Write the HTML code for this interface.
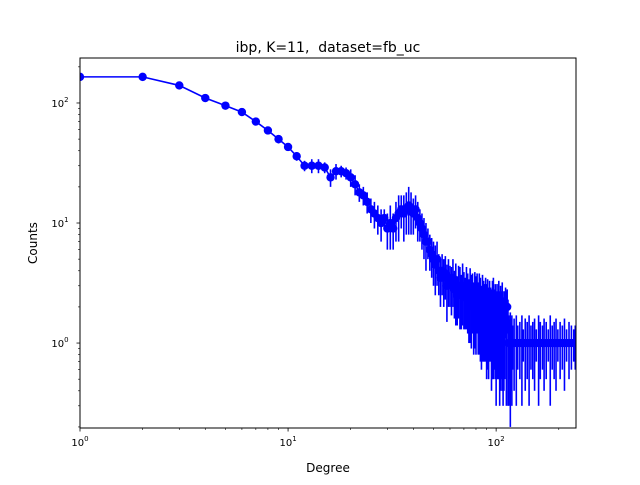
<!DOCTYPE html>
<html><head><meta charset="utf-8"><style>
body{margin:0;background:#fff;}
svg text{font-family:"DejaVu Sans","Liberation Sans",sans-serif;fill:#000;}
</style></head><body>
<svg id="chart" width="640" height="480" xmlns="http://www.w3.org/2000/svg">
<rect width="640" height="480" fill="#fff"/>
<defs><clipPath id="clip"><rect x="80" y="58" width="496" height="370"/></clipPath></defs>
<text x="328" y="52" font-size="14" text-anchor="middle" xml:space="preserve">ibp, K=11,  dataset=fb_uc</text>
<text x="328" y="472" font-size="12" text-anchor="middle">Degree</text>
<text x="37" y="243" font-size="12" text-anchor="middle" transform="rotate(-90 37 243)">Counts</text>
<g id="plot" clip-path="url(#clip)"></g>
<g id="axes"></g>
<rect x="80" y="58" width="496" height="370" fill="none" stroke="#000" stroke-width="1"/>
</svg>
<script>
const degrees = [1,2,3,4,5,6,7,8,9,10,11,12,13,14,15,16,17,18,19,20,21,22,23,24,25,26,27,28,29,30,
31,32,33,34,35,36,37,38,39,40,41,42,43,44,45,46,47,48,49,50,51,52,53,54,55,56,57,58,59,60,
61,62,63,64,65,66,67,68,69,70,71,72,73,74,75,76,77,78,79,80,81,82,83,84,85,86,87,88,89,90,
91,92,93,94,95,96,97,98,99,100,101,102,103,104,105,106,107,108,109,110,111,112,113,114,115,116,117,118,119,120,
122,125,127,130,133,135,138,141,144,147,150,153,156,160,163,167,170,174,178,182,186,190,194,198,203,208,213,218,224,230,236,240];
const counts = [165,165,140,110,95,84,70,59,50,43,36,30,30,30,29,24,27,27,26,24,21,18,17,15,13,12,11,10,11,9,
10,9,11,12,13,12,13,14,13,12,13,11,10,9,8,7,7,6,5.5,5,4.5,5,4,3.5,4,3.5,3.8,3,3.5,3.2,
3,3.5,2.8,3,2.5,3,2.8,2.5,3,2.6,2.4,2.8,2.5,2.2,2.6,2.3,2.5,2,2.4,2.2,2.5,2,2.3,2.1,1.8,2.2,2,1.9,2.1,1.8,
2,1.7,2,1.8,1.6,1.9,2,1.7,1.8,1.5,1.8,1.6,1.9,1.5,1.7,1.6,1.8,1.5,1.4,1.6,2,1.5,2,1.3,1,1,1,1,1,1,
1,1,1,1,1,1,1,1,1,1,1,1,1,1,1,1,1,1,1,1,1,1,1,1,1,1,1,1,1,1,1,1];
const errs = [0,0,3,4,4,5,5,4,4,3,3,3,4,4,3,4,4,3,3,4,4,3,3,3,3,3,3,3,2,3,
4,3,4,5,4,5,5,6,5,4,4,4,3,3,3,3,2,2,2,2,2,2,1.5,1.5,1.5,1.5,1.5,1.5,1.5,1.2,
1.3,1.5,1.2,1.6,1.1,1.4,1.5,1.2,1.6,1.3,1.1,1.5,1.3,1.2,1.6,1.4,1.3,1.2,1.5,1.4,1.3,1.2,1.5,1.4,1.2,1.5,1.3,1.2,1.4,1.3,
1.4,1.2,1.3,1.1,1.2,1.4,1.5,1.1,1.3,1.2,1.3,1.1,1.4,1.2,1.3,1.1,1.4,1.2,1.0,1.1,0.9,1.2,0.8,1.0,0.7,0.5,0.8,0.6,0.7,0.4,
0.6,0.7,0.4,0.5,0.7,0.3,0.6,0.5,0.7,0.4,0.5,0.6,0.3,0.7,0.5,0.4,0.6,0.5,0.3,0.7,0.4,0.5,0.6,0.3,0.5,0.4,0.6,0.3,0.5,0.4,0.3,0.4];
const xTickLabels = ["0","1","2"];
const yTickLabels = ["0","1","2"];

const NS="http://www.w3.org/2000/svg";
const X0=80,X1=576,Y0=58,Y1=428;
const xmin=0, xmax=Math.log10(242), ymin=Math.log10(0.196), ymax=Math.log10(237);
function xs(v){return X0+(Math.log10(v)-xmin)/(xmax-xmin)*(X1-X0);}
function ys(v){return Y1-(Math.log10(Math.max(v,0.01))-ymin)/(ymax-ymin)*(Y1-Y0);}
function mk(tag,attrs,parent){const e=document.createElementNS(NS,tag);for(const k in attrs)e.setAttribute(k,attrs[k]);parent.appendChild(e);return e;}
const plot=document.getElementById('plot'), axes=document.getElementById('axes');
counts.forEach((c,i)=>{
  const lo=Math.max(c-errs[i],0.05), hi=c+errs[i];
  const l=mk('line',{x1:xs(degrees[i]),x2:xs(degrees[i]),y1:ys(lo),y2:ys(hi),stroke:'#0000ff','stroke-width':1.6},plot);
  
  
});
let d='';counts.forEach((c,i)=>{d+=(i?'L':'M')+xs(degrees[i]).toFixed(2)+' '+ys(c).toFixed(2);});
const p=mk('path',{d:d,fill:'none',stroke:'#0000ff','stroke-width':1.6},plot);


counts.forEach((c,i)=>{
  const m=mk('circle',{cx:xs(degrees[i]),cy:ys(c),r:4.2,fill:'#0000ff'},plot);
  
  
});
for(let e=0;e<=2;e++){
  for(let k=1;k<=9;k++){
    const v=k*Math.pow(10,e); if(v>242) break;
    const x=xs(v), major=k===1;
    const t=mk('line',{x1:x,x2:x,y1:Y1,y2:Y1+(major?3.5:2),stroke:'#000','stroke-width':major?0.8:0.6},axes);
    
    
    if(major){
      const tx=mk('text',{x:x,y:Y1+18,'font-size':10,'text-anchor':'middle'},axes);
      
      
      tx.textContent='10';
      const s=mk('tspan',{dy:-5,'font-size':7},tx); s.textContent=xTickLabels[e];
    }
  }
}
for(let e=-1;e<=2;e++){
  for(let k=1;k<=9;k++){
    const v=k*Math.pow(10,e); if(v<0.196||v>237) continue;
    const y=ys(v), major=k===1;
    const t=mk('line',{x1:X0,x2:X0-(major?3.5:2),y1:y,y2:y,stroke:'#000','stroke-width':major?0.8:0.6},axes);
    
    
    if(major){
      const tx=mk('text',{x:X0-20,y:y+4,'font-size':10,'text-anchor':'middle'},axes);
      
      
      tx.textContent='10';
      const s=mk('tspan',{dy:-5,'font-size':7},tx); s.textContent=yTickLabels[e];
    }
  }
}
</script>
</body></html>
